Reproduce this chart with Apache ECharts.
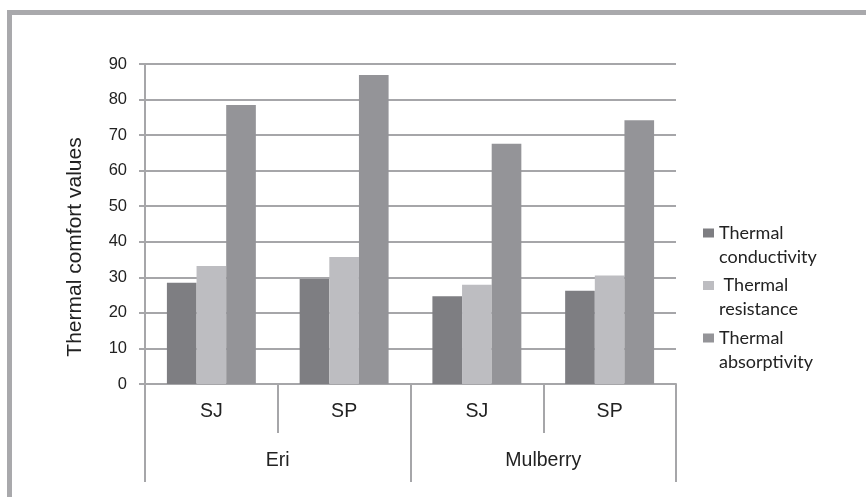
<!DOCTYPE html>
<html>
<head>
<meta charset="utf-8">
<script src="https://cdn.jsdelivr.net/npm/echarts@6/dist/echarts.min.js"></script>
<style>
  html, body { margin: 0; padding: 0; background: #fff; }
  #wrap { position: relative; width: 866px; height: 497px; overflow: hidden; }
  #frame { position: absolute; left: 7px; top: 10px; right: -10px; bottom: -10px;
           border-top: 5px solid #a9a9ac; border-left: 5px solid #a9a9ac; }
  #chart { position: absolute; left: 0; top: 0; width: 866px; height: 497px; }
</style>
</head>
<body>
<div id="wrap">
  <div id="frame"></div>
  <div id="chart"></div>
</div>
<script>
// Sample types within each fabric group, and the fabric groups
const sampleTypes = ['SJ', 'SP', 'SJ', 'SP'];
const fabrics = ['Eri', 'Mulberry'];

// Thermal comfort values per sample (Eri SJ, Eri SP, Mulberry SJ, Mulberry SP)
const conductivity = [28.5, 29.5, 24.7, 26.2];
const resistance = [33.2, 35.7, 27.9, 30.5];
const absorptivity = [78.5, 86.9, 67.6, 74.2];

// Legend names and value axis ticks
const seriesNames = ['Thermal\nconductivity', ' Thermal\nresistance', 'Thermal\nabsorptivity'];
const yMin = 0, yMax = 90, yStep = 10;

const gray = '#a6a6a9';
const colors = ['#7e7e82', '#bdbdc1', '#949498'];

// Legend swatch: a small square at the top of a taller icon box, so it sits
// beside the first line of each two-line legend entry.
const swatchIcon = 'path://M0,0L11,0L11,9L0,9Z M0,33L11,33Z';

const chart = echarts.init(document.getElementById('chart'), null, { renderer: 'canvas' });

chart.setOption({
  animation: false,
  backgroundColor: 'transparent',
  color: colors,
  grid: { left: 145, right: 190, top: 64, bottom: 113, containLabel: false },
  legend: {
    orient: 'vertical',
    left: 703,
    top: 221,
    padding: 0,
    icon: swatchIcon,
    itemWidth: 11,
    itemHeight: 33,
    itemGap: 4.5,
    data: seriesNames,
    itemStyle: { borderWidth: 0 },
    textStyle: {
      fontFamily: 'Lato',
      fontSize: 18,
      color: '#222',
      lineHeight: 24
    }
  },
  xAxis: [
    {
      type: 'category',
      data: sampleTypes,
      position: 'bottom',
      axisLine: { show: true, lineStyle: { color: gray, width: 2 } },
      axisTick: { show: true, length: 49, interval: 0, lineStyle: { color: gray, width: 2 } },
      axisLabel: { interval: 0, margin: 18, fontFamily: 'Liberation Sans', fontSize: 19.5, color: '#222' },
      splitLine: { show: false }
    },
    {
      type: 'category',
      data: fabrics,
      position: 'bottom',
      axisLine: { show: false },
      axisTick: { show: true, length: 98, interval: 0, lineStyle: { color: gray, width: 2 } },
      axisLabel: { interval: 0, margin: 67, fontFamily: 'Liberation Sans', fontSize: 19.5, color: '#222' },
      splitLine: { show: false }
    }
  ],
  yAxis: {
    type: 'value',
    min: yMin,
    max: yMax,
    interval: yStep,
    name: 'Thermal comfort values',
    nameLocation: 'middle',
    nameRotate: 90,
    nameGap: 59,
    nameTextStyle: { fontFamily: 'Liberation Sans', fontSize: 21, color: '#222', padding: [0, 46, 0, 0] },
    axisLine: { show: true, lineStyle: { color: gray, width: 2 } },
    axisTick: { show: true, length: 6, lineStyle: { color: gray, width: 2 } },
    axisLabel: { margin: 18, fontFamily: 'Liberation Sans', fontSize: 16.5, color: '#222' },
    splitLine: { show: true, lineStyle: { color: gray, width: 2 } }
  },
  series: [
    { name: seriesNames[0], type: 'bar', xAxisIndex: 0, data: conductivity, barGap: '0%', barCategoryGap: '33%' },
    { name: seriesNames[1], type: 'bar', xAxisIndex: 0, data: resistance, barGap: '0%', barCategoryGap: '33%' },
    { name: seriesNames[2], type: 'bar', xAxisIndex: 0, data: absorptivity, barGap: '0%', barCategoryGap: '33%' }
  ]
});
</script>
</body>
</html>
